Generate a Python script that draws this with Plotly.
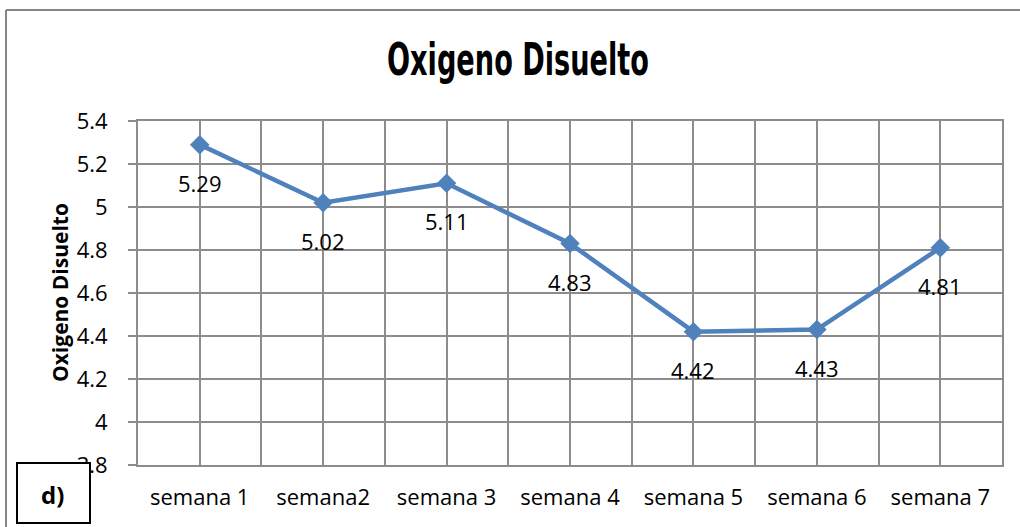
import plotly.graph_objects as go

weeks = ["semana 1", "semana2", "semana 3", "semana 4", "semana 5", "semana 6", "semana 7"]
oxygen = [5.29, 5.02, 5.11, 4.83, 4.42, 4.43, 4.81]
y_ticks = [3.8, 4.0, 4.2, 4.4, 4.6, 4.8, 5.0, 5.2, 5.4]
y_tick_text = ["3.8", "4", "4.2", "4.4", "4.6", "4.8", "5", "5.2", "5.4"]

W, H = 1020, 527
L, R, T, B = 138, 18, 121, 62
pw, ph = W - L - R, H - T - B

xpos = list(range(len(weeks)))
FONT = "Open Sans, Noto Sans, Liberation Sans, sans-serif"
GRID = "#8c8c8c"
BLUE = "#4f81bd"

fig = go.Figure()
fig.add_trace(go.Scatter(
    x=xpos, y=oxygen, mode="lines+markers",
    line=dict(color=BLUE, width=4.5),
    marker=dict(symbol="diamond", size=15, color=BLUE),
    hoverinfo="skip", showlegend=False,
))

for xv, yv in zip(xpos, oxygen):
    fig.add_annotation(x=xv, y=yv, text=f"{yv:.2f}", showarrow=False,
                       yshift=-38, font=dict(family=FONT, size=22, color="#000000"))

# y-axis title
fig.add_annotation(xref="paper", yref="paper", x=(60 - L) / pw, y=0.5,
                   text="<b>Oxigeno Disuelto</b>", textangle=-90, showarrow=False,
                   xanchor="center", yanchor="middle",
                   font=dict(family=FONT, size=21, color="#000000"))

# "d)" box
fig.add_shape(type="rect", xref="paper", yref="paper",
              x0=(17 - L) / pw, x1=(90 - L) / pw,
              y0=-(523 - (T + ph)) / ph, y1=-(463 - (T + ph)) / ph,
              line=dict(color="#000000", width=2), fillcolor="white", layer="above")
fig.add_annotation(xref="paper", yref="paper",
                   x=(52 - L) / pw, y=-(494 - (T + ph)) / ph,
                   text="<b>d)</b>", showarrow=False,
                   xanchor="center", yanchor="middle",
                   font=dict(family=FONT, size=24, color="#000000"))

# outer frame (left and top)
fx = (6 - L) / pw
fy = 1 + (T - 10) / ph
fig.add_shape(type="line", xref="paper", yref="paper", x0=fx, x1=fx, y0=-1, y1=fy,
              line=dict(color="#868686", width=2))
fig.add_shape(type="line", xref="paper", yref="paper", x0=fx, x1=2, y0=fy, y1=fy,
              line=dict(color="#868686", width=2))

fig.update_layout(
    width=W, height=H,
    margin=dict(l=L, r=R, t=T, b=B),
    paper_bgcolor="white", plot_bgcolor="white",
    title=dict(text="Oxigeno Disuelto", x=518 / W, xanchor="center",
               y=1 - 59 / H, yanchor="middle",
               font=dict(family="DejaVu Sans, sans-serif", weight="bold",
                         size=45, color="#000000")),
    xaxis=dict(
        range=[-0.5, len(weeks) - 0.5],
        tickmode="array", tickvals=xpos, ticktext=weeks,
        showgrid=True, gridcolor=GRID, gridwidth=1.6,
        minor=dict(tickmode="linear", tick0=-0.5, dtick=1, showgrid=True,
                   gridcolor=GRID, gridwidth=1.6, ticks=""),
        showline=True, linecolor=GRID, linewidth=2, mirror=True,
        ticks="", zeroline=False, ticklabelstandoff=12,
        tickfont=dict(family=FONT, size=22, color="#000000"),
    ),
    yaxis=dict(
        range=[3.8, 5.4],
        tickmode="array", tickvals=y_ticks, ticktext=y_tick_text,
        showgrid=True, gridcolor=GRID, gridwidth=1.6,
        showline=True, linecolor=GRID, linewidth=2, mirror=True,
        ticks="outside", ticklen=8, tickcolor=GRID, tickwidth=1.6,
        zeroline=False, ticklabelstandoff=16,
        tickfont=dict(family=FONT, size=22, color="#000000"),
    ),
)

post = """
document.body.style.margin='0px';
var t=document.querySelector('.gtitle');
if(t){t.setAttribute('textLength','262');t.setAttribute('lengthAdjust','spacingAndGlyphs');}
"""
fig.write_html("out.html", config={"displayModeBar": False}, post_script=post)
